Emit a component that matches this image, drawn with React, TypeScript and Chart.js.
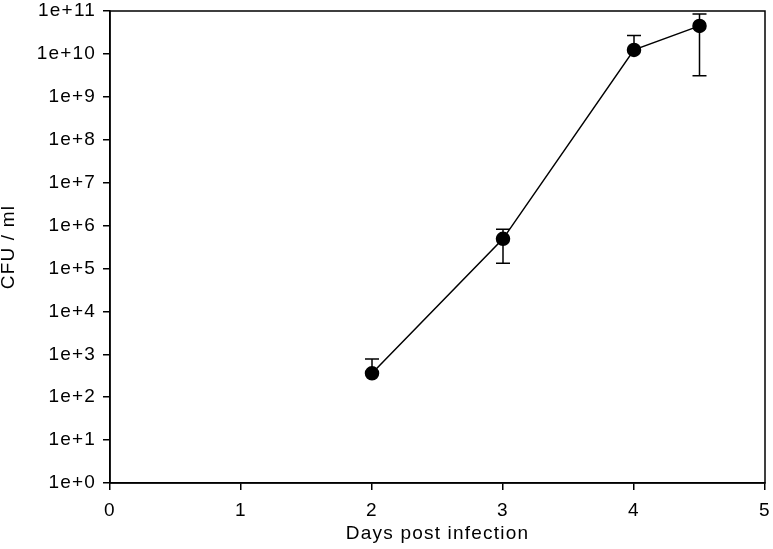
import React, { useEffect, useRef } from "react";
import { Chart, registerables } from "chart.js";

Chart.register(...registerables);

const days = [2, 3, 4, 4.5];
const cfu = [360, 490000, 1.24e10, 4.5e10];
const errUpper = [780, 820000, 2.7e10, 8.5e10];
const errLower = [null, 132000, null, 3.1e9];
const yTickValues = [1, 1e1, 1e2, 1e3, 1e4, 1e5, 1e6, 1e7, 1e8, 1e9, 1e10, 1e11];
const xTickValues = [0, 1, 2, 3, 4, 5];

const FONT = "'Liberation Sans', Arial, sans-serif";
const FSIZE = 19;
const SPACING = "1.2px";

const spacingPlugin = {
  id: "spacing",
  beforeLayout(chart: any) {
    chart.ctx.letterSpacing = SPACING;
  },
  beforeDraw(chart: any) {
    chart.ctx.letterSpacing = SPACING;
  },
};

const errorBarPlugin = {
  id: "errorBars",
  afterDatasetsDraw(chart: any) {
    const ctx = chart.ctx;
    const xs = chart.scales.x;
    const ys = chart.scales.y;
    ctx.save();
    ctx.strokeStyle = "#000";
    ctx.lineWidth = 1.5;
    const cap = 7;
    days.forEach((d, i) => {
      const px = xs.getPixelForValue(d);
      const py = ys.getPixelForValue(cfu[i]);
      const up = errUpper[i];
      const lo = errLower[i];
      if (up != null) {
        const pu = ys.getPixelForValue(up);
        ctx.beginPath();
        ctx.moveTo(px, py);
        ctx.lineTo(px, pu);
        ctx.moveTo(px - cap, pu);
        ctx.lineTo(px + cap, pu);
        ctx.stroke();
      }
      if (lo != null) {
        const pl = ys.getPixelForValue(lo);
        ctx.beginPath();
        ctx.moveTo(px, py);
        ctx.lineTo(px, pl);
        ctx.moveTo(px - cap, pl);
        ctx.lineTo(px + cap, pl);
        ctx.stroke();
      }
    });
    ctx.restore();
  },
};

const framePlugin = {
  id: "frame",
  afterDraw(chart: any) {
    const { ctx, chartArea } = chart;
    ctx.save();
    ctx.strokeStyle = "#000";
    ctx.lineWidth = 1.5;
    ctx.strokeRect(chartArea.left, chartArea.top, chartArea.right - chartArea.left, chartArea.bottom - chartArea.top);
    ctx.restore();
  },
};

export default function App() {
  const ref = useRef<HTMLCanvasElement>(null);
  useEffect(() => {
    document.body.style.margin = "0";
    const chart = new Chart(ref.current!, {
      type: "line",
      data: {
        datasets: [
          {
            data: days.map((d, i) => ({ x: d, y: cfu[i] })),
            borderColor: "#000",
            backgroundColor: "#000",
            borderWidth: 1.5,
            pointRadius: 6.5,
            pointBackgroundColor: "#000",
            pointBorderColor: "#000",
            tension: 0,
          },
        ],
      },
      options: {
        animation: false,
        responsive: false,
        layout: { padding: { top: 11, right: 6, left: 0, bottom: 0 } },
        plugins: { legend: { display: false }, tooltip: { enabled: false } },
        scales: {
          x: {
            type: "linear",
            min: 0,
            max: 5,
            afterBuildTicks: (s: any) => {
              s.ticks = xTickValues.map((v) => ({ value: v }));
            },
            afterFit: (s: any) => {
              s.height = 66;
              s.paddingLeft = 0;
              s.paddingRight = 0;
            },
            grid: { drawOnChartArea: false, drawTicks: true, tickLength: 7, color: "#000", lineWidth: 1.5 },
            border: { display: true, color: "#000", width: 1.5 },
            ticks: { color: "#000", font: { family: FONT, size: FSIZE }, padding: 9 },
            title: { display: true, text: "Days post infection", color: "#000", font: { family: FONT, size: FSIZE }, padding: { top: 0 } },
          },
          y: {
            type: "logarithmic",
            min: 1,
            max: 1e11,
            afterBuildTicks: (s: any) => {
              s.ticks = yTickValues.map((v) => ({ value: v }));
            },
            afterFit: (s: any) => {
              s.width = 110;
              s.paddingTop = 0;
              s.paddingBottom = 0;
            },
            grid: { drawOnChartArea: false, drawTicks: true, tickLength: 7, color: "#000", lineWidth: 1.5 },
            border: { display: true, color: "#000", width: 1.5 },
            ticks: {
              color: "#000",
              font: { family: FONT, size: FSIZE },
              padding: 7,
              callback: (v: any) => "1e+" + Math.round(Math.log10(Number(v))),
            },
            title: { display: true, text: "CFU / ml", color: "#000", font: { family: FONT, size: FSIZE, lineHeight: 1 }, padding: { top: -1, bottom: 0 } },
          },
        },
      },
      plugins: [spacingPlugin, errorBarPlugin, framePlugin],
    });
    return () => chart.destroy();
  }, []);
  return (
    <div style={{ width: 773, height: 549 }}>
      <canvas ref={ref} width={773} height={549} />
    </div>
  );
}
